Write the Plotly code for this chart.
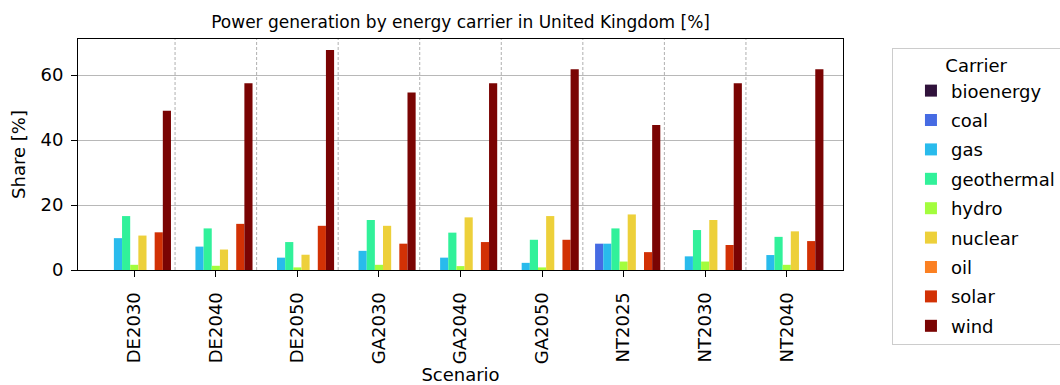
import plotly.graph_objects as go

# Scenarios on the x axis
scenarios = ["DE2030", "DE2040", "DE2050", "GA2030", "GA2040", "GA2050",
             "NT2025", "NT2030", "NT2040"]

# Share of power generation [%] per carrier and scenario
bioenergy = [0, 0, 0, 0, 0, 0, 0, 0, 0]
coal = [0, 0, 0, 0, 0, 0, 8.1, 0, 0]
gas = [9.8, 7.2, 3.8, 5.9, 3.8, 2.2, 8.1, 4.2, 4.6]
geothermal = [16.6, 12.8, 8.6, 15.4, 11.5, 9.3, 12.8, 12.3, 10.2]
hydro = [1.6, 1.3, 0.8, 1.6, 1.2, 0.8, 2.6, 2.6, 1.6]
nuclear = [10.6, 6.3, 4.7, 13.6, 16.2, 16.6, 17.1, 15.4, 11.9]
oil = [0, 0, 0, 0, 0, 0, 0, 0, 0]
solar = [11.6, 14.2, 13.6, 8.1, 8.6, 9.3, 5.5, 7.7, 8.9]
wind = [49.0, 57.5, 67.7, 54.6, 57.5, 61.8, 44.6, 57.5, 61.8]

carriers = ["bioenergy", "coal", "gas", "geothermal", "hydro",
            "nuclear", "oil", "solar", "wind"]
series = [bioenergy, coal, gas, geothermal, hydro, nuclear, oil, solar, wind]
colors = ["#30123b", "#466be3", "#29bbec", "#31f19a", "#a3fd3d",
          "#edd03a", "#fb8022", "#d23105", "#7a0403"]

FONT = "DejaVu Sans"

fig = go.Figure()
for name, vals, col in zip(carriers, series, colors):
    fig.add_trace(go.Bar(
        x=scenarios, y=vals, name=name, legendgroup=name,
        marker=dict(color=col, line=dict(width=0)),
    ))

# dashed separators between scenario groups
for i in range(len(scenarios) - 1):
    fig.add_shape(type="line", xref="x", yref="paper",
                  x0=i + 0.5, x1=i + 0.5, y0=0, y1=1,
                  line=dict(color="#9a9a9a", width=0.8, dash="3px,2px"),
                  layer="below")

fig.update_layout(
    width=1060, height=385,
    margin=dict(l=78, r=217, t=39, b=115, autoexpand=False),
    paper_bgcolor="white", plot_bgcolor="white",
    barmode="group", bargap=0.1, bargroupgap=0,
    font=dict(family=FONT, size=18, color="black"),
    title=dict(text="Power generation by energy carrier in United Kingdom [%]",
               x=0.4345, xanchor="center", y=1 - 22 / 385, yanchor="middle",
               font=dict(size=17, color="black")),
    legend=dict(
        title=dict(text="Carrier", side="top center", font=dict(size=18)),
        x=1.064, xanchor="left", y=0.961, yanchor="top",
        bordercolor="#cccccc", borderwidth=1, bgcolor="white",
        font=dict(size=18), tracegroupgap=3, traceorder="grouped",
        indentation=18, maxheight=400,
    ),
)

fig.update_xaxes(
    type="category", range=[-0.69, 8.69],
    tickangle=-90, ticks="outside", ticklen=6, tickcolor="black",
    showline=True, linecolor="black", linewidth=1, mirror=True,
    showgrid=False, ticklabelstandoff=8,
    title=dict(text="Scenario", standoff=9, font=dict(size=18)),
)
fig.update_yaxes(
    range=[0, 71.1], tickvals=[0, 20, 40, 60],
    ticks="outside", ticklen=6, tickcolor="black",
    showline=True, linecolor="black", linewidth=1, mirror=True,
    showgrid=True, gridcolor="#b8b8b8", gridwidth=1, zeroline=False,
    ticklabelstandoff=4,
    title=dict(text="Share [%]", standoff=10, font=dict(size=18)),
)

fig.write_html("out.html")
